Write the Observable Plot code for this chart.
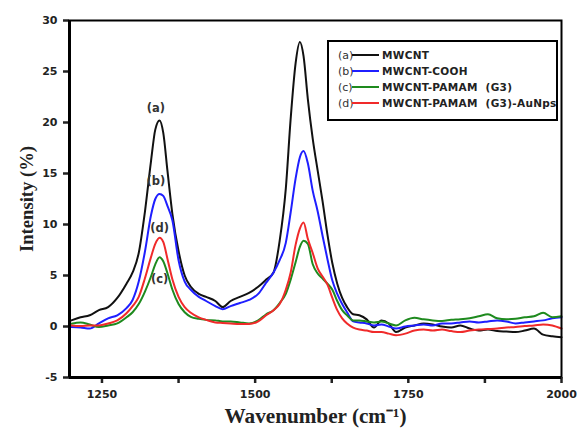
<!DOCTYPE html>
<html>
<head>
<meta charset="utf-8">
<script src="https://cdn.jsdelivr.net/npm/d3@7"></script>
<script src="https://cdn.jsdelivr.net/npm/@observablehq/plot@0.6"></script>
<style>
  html, body { margin: 0; padding: 0; background: #fff; }
  #wrap { position: relative; width: 578px; height: 431px; }
  #wrap svg { display: block; }
  #legend {
    position: absolute; left: 327px; top: 40px; width: 227px; height: 77px;
    border: 2px solid #000; font-family: "DejaVu Sans", sans-serif;
    font-weight: bold; font-size: 10.5px; color: #222; box-sizing: content-box;
  }
  .row { position: absolute; left: 9px; height: 14px; display: flex; align-items: center; white-space: pre; }
  .tag { width: 14px; color: #333; font-weight: normal; font-size: 11px; letter-spacing: 0; }
  .sw { width: 27px; height: 2px; margin-right: 3px; }
  .nm { letter-spacing: 0.3px; }
</style>
</head>
<body>
<div id="wrap"><div id="legend"></div></div>
<script>
// Wavenumber grid (cm^-1)
const wavenumber = [1200,1215,1230,1245,1260,1275,1290,1300,1310,1320,1330,1337,1344,1350,1357,1365,1375,1385,1395,1408,1420,1435,1447,1460,1475,1490,1505,1518,1530,1540,1550,1558,1566,1573,1579,1586,1594,1602,1610,1618,1626,1634,1642,1650,1660,1670,1682,1694,1706,1718,1730,1745,1760,1775,1790,1805,1820,1835,1850,1865,1880,1895,1910,1925,1940,1955,1970,1985,2000];

// (a) MWCNT
const mwcnt = [0.6,0.9,1.1,1.6,1.9,2.8,4.2,5.3,7.2,11.2,16.2,19.3,20.2,19.0,15.2,11.0,7.4,5.0,3.9,3.2,2.9,2.5,1.9,2.5,2.9,3.3,3.9,4.6,5.3,8.4,13.5,20.4,25.8,27.9,26.5,22.3,18.4,15.3,12.3,9.0,6.2,4.2,2.8,1.9,1.2,1.1,0.7,-0.1,0.6,0.3,-0.55,-0.1,0.1,0.3,0.2,0.0,-0.1,0.1,-0.2,-0.4,-0.3,-0.45,-0.5,-0.55,-0.4,-0.2,-0.8,-0.95,-1.05];
// (b) MWCNT-COOH
const mwcntCooh = [-0.05,-0.1,-0.2,0.3,0.8,1.1,1.8,2.6,4.4,7.3,10.9,12.5,13.0,12.8,11.8,10.4,6.5,4.4,3.6,2.9,2.5,2.0,1.7,2.0,2.3,2.6,3.2,4.3,5.3,6.5,8.2,11.2,14.5,16.6,17.2,16.0,13.3,11.3,8.9,6.6,4.5,3.2,2.2,1.4,0.5,0.4,0.3,0.1,0.2,0.0,-0.2,0.0,0.1,0.2,0.1,0.3,0.3,0.4,0.5,0.4,0.5,0.6,0.5,0.3,0.4,0.5,0.6,0.8,0.9];
// (c) MWCNT-PAMAM (G3)
const mwcntPamam = [0.26,0.4,0.2,-0.05,0.1,0.3,0.9,1.4,2.2,3.4,4.9,6.1,6.8,6.4,5.2,3.6,2.2,1.4,0.95,0.75,0.65,0.6,0.5,0.5,0.4,0.3,0.6,1.2,1.6,2.3,3.2,4.6,6.3,7.8,8.4,8.1,6.1,5.2,4.7,4.2,3.6,2.5,1.6,1.1,0.6,0.6,0.5,0.4,0.5,0.3,0.1,0.6,0.85,0.7,0.6,0.55,0.65,0.7,0.8,1.0,1.2,0.8,0.7,0.75,0.9,1.0,1.35,0.9,1.0];
// (d) MWCNT-PAMAM (G3)-AuNps
const mwcntPamamAu = [0.1,0.05,0.1,0.1,0.3,0.6,1.3,2.0,2.9,4.7,6.8,8.1,8.7,8.3,6.6,4.6,2.9,1.9,1.35,0.9,0.65,0.4,0.35,0.3,0.25,0.25,0.5,1.1,1.6,2.2,3.6,5.3,8.0,9.6,10.2,8.6,7.2,5.7,4.9,4.1,2.8,1.6,0.8,0.3,-0.1,-0.3,-0.4,-0.55,-0.55,-0.7,-0.85,-0.7,-0.4,-0.3,-0.4,-0.3,-0.45,-0.55,-0.4,-0.3,-0.25,-0.2,-0.1,-0.05,0.05,0.1,0.2,0.1,-0.2];

const seriesTags = ["(a)", "(b)", "(c)", "(d)"];
const seriesNames = ["MWCNT", "MWCNT-COOH", "MWCNT-PAMAM  (G3)", "MWCNT-PAMAM  (G3)-AuNps"];
const seriesColors = ["#111111", "#1f1fff", "#1e8a1e", "#f02a2a"];
const seriesValues = [mwcnt, mwcntCooh, mwcntPamam, mwcntPamamAu];

// Peak annotations
const peakLabels = ["(a)", "(b)", "(d)", "(c)"];
const peakX = [1338, 1338, 1344, 1344];
const peakY = [21.4, 14.2, 9.6, 4.6];

const yTicks = [-5, 0, 5, 10, 15, 20, 25, 30];
const xLabeledTicks = [1250, 1500, 1750, 2000];
const xMinorTicks = [1375, 1625, 1875];

const yTitle = "Intensity (%)";
const xTitle = "Wavenumber (cm\u207B\u00B9)";

const rows = [];
seriesValues.forEach((vals, i) => {
  wavenumber.forEach((w, j) => rows.push({w, v: vals[j], s: seriesNames[i]}));
});

const serif = "'Liberation Serif', 'Times New Roman', serif";

const chart = Plot.plot({
  width: 578, height: 431,
  marginLeft: 69, marginRight: 17, marginTop: 20, marginBottom: 54,
  x: {domain: [1197, 2000], label: null},
  y: {domain: [-5, 30], label: null},
  color: {domain: seriesNames, range: seriesColors},
  style: {fontFamily: "'DejaVu Sans', sans-serif", fontWeight: "bold", fontSize: "11px", color: "#222", background: "#fff"},
  marks: [
    Plot.line(rows, {x: "w", y: "v", z: "s", stroke: "s", strokeWidth: 2, curve: "monotone-x"}),
    Plot.frame({stroke: "#000", strokeWidth: 2}),
    Plot.axisY({ticks: yTicks, tickSize: 6, tickPadding: 6, strokeWidth: 2.5, tickFormat: d => String(d), label: null}),
    Plot.axisX({ticks: xLabeledTicks, tickSize: 6, tickPadding: 7, strokeWidth: 2.5, tickFormat: d => String(d), label: null}),
    Plot.axisX({ticks: xMinorTicks, tickSize: 6, tickFormat: () => "", strokeWidth: 2.5, label: null}),
    Plot.ruleX([1197], {stroke: "#000", strokeWidth: 3}),
    Plot.ruleY([-5], {stroke: "#000", strokeWidth: 3}),
    Plot.text(peakLabels, {x: (d, i) => peakX[i], y: (d, i) => peakY[i], text: d => d, fontSize: 11.5, fill: "#333"}),
    Plot.text([yTitle], {frameAnchor: "left", textAnchor: "middle", lineAnchor: "middle", dx: -42, rotate: -90, fontFamily: serif, fontSize: 18, fontWeight: "bold", fill: "#222"}),
    Plot.text([xTitle], {frameAnchor: "bottom", textAnchor: "middle", lineAnchor: "middle", dy: 39, fontFamily: serif, fontSize: 21, fontWeight: "bold", fill: "#222"})
  ]
});
document.getElementById("wrap").prepend(chart);

// condense / stretch the axis titles to the reference's extents
d3.select(chart).selectAll("text").each(function() {
  const t = this.textContent;
  if (t === yTitle) d3.select(this).attr("textLength", 106).attr("lengthAdjust", "spacingAndGlyphs");
  if (t === xTitle) d3.select(this).attr("textLength", 182).attr("lengthAdjust", "spacingAndGlyphs");
});

const legend = document.getElementById("legend");
const rowTops = [6, 22, 38, 54];
seriesNames.forEach((name, i) => {
  const r = document.createElement("div");
  r.className = "row";
  r.style.top = rowTops[i] + "px";
  r.innerHTML = `<span class="tag">${seriesTags[i]}</span><span class="sw" style="background:${seriesColors[i]}"></span><span class="nm">${name}</span>`;
  legend.appendChild(r);
});
</script>
</body>
</html>
